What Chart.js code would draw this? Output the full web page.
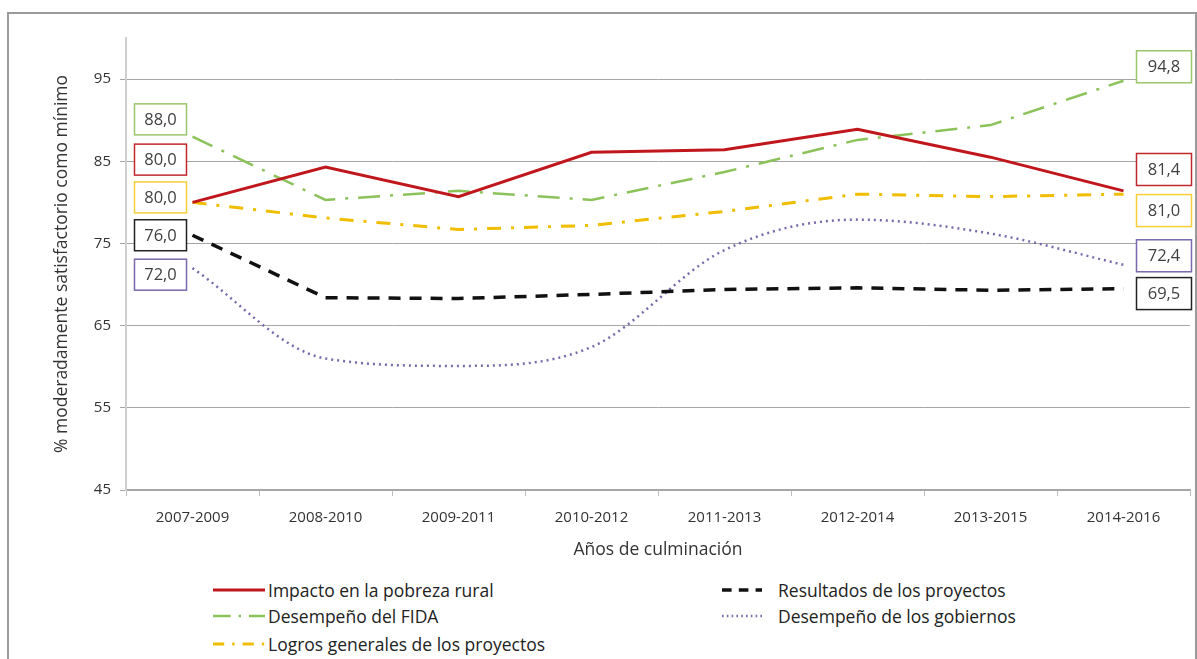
<!DOCTYPE html>
<html>
<head>
<meta charset="utf-8">
<script src="https://cdn.jsdelivr.net/npm/chart.js@4.4.0/dist/chart.umd.min.js"></script>
<style>
  html,body{margin:0;padding:0;background:#fff;}
  body{width:1197px;height:659px;position:relative;overflow:hidden;font-family:"Open Sans",sans-serif;}
  #frame{position:absolute;left:7px;top:12px;width:1186px;height:700px;border:2px solid #9a9a9a;}
  #wrap{position:absolute;left:0;top:0;width:1197px;height:575px;}
  #legend{position:absolute;left:0;top:575px;width:1197px;height:84px;font-size:17.5px;color:#222;}
  .item{position:absolute;display:flex;align-items:center;white-space:nowrap;}
  .item svg{display:block;}
</style>
</head>
<body>
<div id="frame"></div>
<div id="wrap"><canvas id="chart" width="1197" height="575"></canvas></div>
<div id="legend"></div>
<script>
/* ---------- данные ---------- */
const categories = ['2007-2009','2008-2010','2009-2011','2010-2012','2011-2013','2012-2014','2013-2015','2014-2016'];
const impacto    = [80.0, 84.3, 80.7, 86.1, 86.4, 88.9, 85.5, 81.4];
const fida       = [88.0, 80.3, 81.4, 80.3, 83.7, 87.6, 89.4, 94.8];
const logros     = [80.0, 78.1, 76.7, 77.2, 78.9, 81.0, 80.7, 81.0];
const resultados = [76.0, 68.4, 68.3, 68.8, 69.4, 69.6, 69.3, 69.5];
const gobiernos  = [72.0, 61.0, 60.1, 62.4, 74.2, 77.9, 76.2, 72.4];
const yTicks     = [45, 55, 65, 75, 85, 95];
// where the value boxes sit (in axis units) so they don't overlap
const leftBoxAt  = [85.2, 90.1, 80.6, 76.0, 71.2];
const rightBoxAt = [84.0, 96.5, 79.0, 68.9, 73.5];

/* ---------- серии ---------- */
const series = [
  {label:'Impacto en la pobreza rural',       data:impacto,    color:'#c0171c', box:'#c0282d', dash:[],          w:3,   col:0, row:0},
  {label:'Desempeño del FIDA',                data:fida,       color:'#8cc25a', box:'#9bc56d', dash:[22,10,3,10], w:2.5, col:0, row:1},
  {label:'Logros generales de los proyectos', data:logros,     color:'#f0bd00', box:'#f5cf3a', dash:[14,10,3,10], w:3,   col:0, row:2},
  {label:'Resultados de los proyectos',       data:resultados, color:'#111111', box:'#222222', dash:[12,9],       w:3.5, col:1, row:0},
  {label:'Desempeño de los gobiernos',        data:gobiernos,  color:'#7a68ad', box:'#7a68ad', dash:[2,4],        w:2.5, col:1, row:1, smooth:true},
];

const fmt = v => v.toFixed(1).replace('.', ',');

/* ---------- подписи значений ---------- */
const valueBoxes = {
  id:'valueBoxes',
  afterDatasetsDraw(chart){
    const ctx = chart.ctx, y = chart.scales.y;
    ctx.save();
    ctx.font = '16.5px "Open Sans", sans-serif';
    ctx.textAlign = 'center';
    ctx.textBaseline = 'middle';
    chart.data.datasets.forEach((ds, i) => {
      const pts = chart.getDatasetMeta(i).data;
      const first = pts[0], last = pts[pts.length-1];
      const draw = (x, cy, w, h, txt) => {
        ctx.fillStyle = '#fff';
        ctx.fillRect(x, cy - h/2, w, h);
        ctx.strokeStyle = series[i].box;
        ctx.lineWidth = 1.5;
        ctx.strokeRect(x, cy - h/2, w, h);
        ctx.fillStyle = '#404040';
        ctx.fillText(txt, x + w/2, cy + 1);
      };
      draw(first.x - 58, y.getPixelForValue(leftBoxAt[i]), 52, 31, fmt(ds.data[0]));
      draw(last.x + 13, y.getPixelForValue(rightBoxAt[i]), 55, 32, fmt(ds.data[ds.data.length-1]));
    });
    ctx.restore();
  }
};

/* ---------- график ---------- */
Chart.defaults.font.family = '"Open Sans", sans-serif';
Chart.defaults.color = '#333';
new Chart(document.getElementById('chart').getContext('2d'), {
  type:'line',
  data:{
    labels:categories,
    datasets:series.map(s => ({
      label:s.label,
      data:s.data,
      borderColor:s.color,
      backgroundColor:s.color,
      borderWidth:s.w,
      borderDash:s.dash,
      pointRadius:0,
      fill:false,
      cubicInterpolationMode: s.smooth ? 'monotone' : 'default',
      tension:0
    }))
  },
  options:{
    responsive:false,
    animation:false,
    layout:{padding:{left:0, right:7, top:38, bottom:0}},
    plugins:{legend:{display:false}, tooltip:{enabled:false}},
    scales:{
      x:{
        offset:true,
        grid:{offset:true, drawOnChartArea:false, drawTicks:true, tickLength:6, color:'#bdbdbd'},
        border:{color:'#a6a6a6', width:1.5},
        ticks:{font:{size:15}, color:'#333', padding:13, maxRotation:0},
        title:{display:true, text:'Años de culminación', font:{size:17.5}, color:'#333', padding:{top:4, bottom:14}},
        afterFit(s){ s.height = 85; }
      },
      y:{
        min:45, max:100,
        afterBuildTicks(s){ s.ticks = yTicks.map(v => ({value:v})); },
        grid:{color:'#a6a6a6', lineWidth:1, tickLength:6},
        border:{color:'#cfcfcf', width:2},
        ticks:{font:{size:15}, color:'#333', padding:9},
        title:{display:true, text:'% moderadamente satisfactorio como mínimo', font:{size:17.5}, color:'#333', padding:{top:52, bottom:0}},
        afterFit(s){ s.width = 126; }
      }
    }
  },
  plugins:[valueBoxes]
});

/* ---------- легенда ---------- */
const legendPos = {colX:[213, 722], rowY:[16, 42, 70], sampleW:[52, 40], gap:[3, 16]};
const leg = document.getElementById('legend');
series.forEach(s => {
  const d = document.createElement('div');
  d.className = 'item';
  d.style.left = legendPos.colX[s.col] + 'px';
  d.style.top = (legendPos.rowY[s.row] - 13) + 'px';
  const w = legendPos.sampleW[s.col];
  d.innerHTML = `<svg width="${w}" height="12" style="margin-right:${legendPos.gap[s.col]}px"><line x1="0" y1="6" x2="${w}" y2="6" stroke="${s.color}" stroke-width="${s.w}" stroke-dasharray="${s.dash.length ? s.dash.map(v=>v*0.8).join(',') : 'none'}"/></svg><span>${s.label}</span>`;
  leg.appendChild(d);
});
</script>
</body>
</html>
